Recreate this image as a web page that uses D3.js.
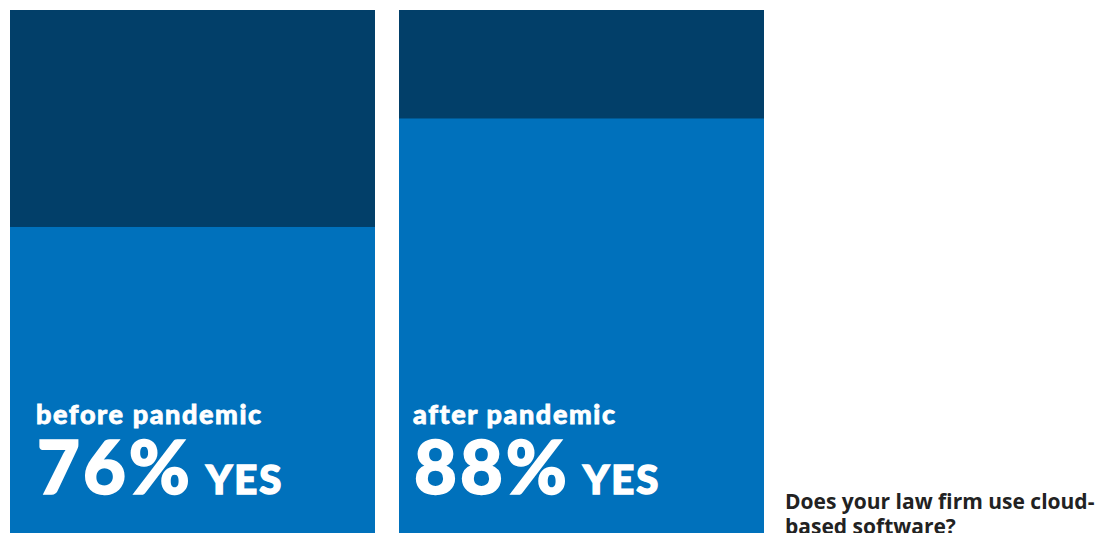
<!DOCTYPE html>
<html>
<head>
<meta charset="utf-8">
<script src="https://cdn.jsdelivr.net/npm/d3@7"></script>
<style>
  body { margin: 0; background: #fff; overflow: hidden; }
</style>
</head>
<body>
<div id="chart"></div>
<script>
// data
let periods = ["before pandemic", "after pandemic"];
let yes_pct = [76, 88];
let question = ["Does your law firm use cloud-", "based software?"];

let width = 1101, height = 950;
let bar_top = 10, bar_h = 904;
let label_dx = [26, 14];

let svg = d3.select("#chart").append("svg")
  .attr("width", width)
  .attr("height", height);

let x = d3.scaleBand()
  .domain(periods)
  .range([10, 764])
  .paddingInner(0.0617);

let y = d3.scaleLinear()
  .domain([0, 100])
  .range([bar_top + bar_h, bar_top]);

let bars = svg.append("g")
  .selectAll("g")
  .data(periods)
  .join("g");

// full (no) part
bars.append("rect")
  .attr("x", d => x(d))
  .attr("y", y(100))
  .attr("width", x.bandwidth())
  .attr("height", y(0) - y(100))
  .attr("fill", "#023f69");

// yes part
bars.append("rect")
  .attr("x", d => x(d))
  .attr("y", (d, i) => y(yes_pct[i]))
  .attr("width", x.bandwidth())
  .attr("height", (d, i) => y(0) - y(yes_pct[i]))
  .attr("fill", "#0071bc");

bars.append("text")
  .attr("x", (d, i) => x(d) + label_dx[i])
  .attr("y", 424)
  .attr("fill", "#fff")
  .attr("stroke", "#fff")
  .attr("stroke-width", 0.8)
  .style("font", "900 27px Lato, sans-serif")
  .style("letter-spacing", "1.6px")
  .text(d => d);

let big = bars.append("text")
  .attr("x", (d, i) => x(d) + label_dx[i] + 1)
  .attr("y", 494)
  .attr("fill", "#fff")
  .attr("stroke", "#fff")
  .attr("stroke-width", 1.5);

big.append("tspan")
  .style("font", "900 74px Lato, sans-serif")
  .style("letter-spacing", "3px")
  .text((d, i) => yes_pct[i] + "%");

big.append("tspan")
  .attr("dx", 13)
  .style("font", "900 40px Lato, sans-serif")
  .style("letter-spacing", "2px")
  .text("YES");

svg.append("g")
  .selectAll("text")
  .data(question)
  .join("text")
  .attr("x", 785)
  .attr("y", (d, i) => 509 + i * 25)
  .attr("fill", "#222")
  .style("font", "700 21px 'Open Sans', sans-serif")
  .text(d => d);
</script>
</body>
</html>
